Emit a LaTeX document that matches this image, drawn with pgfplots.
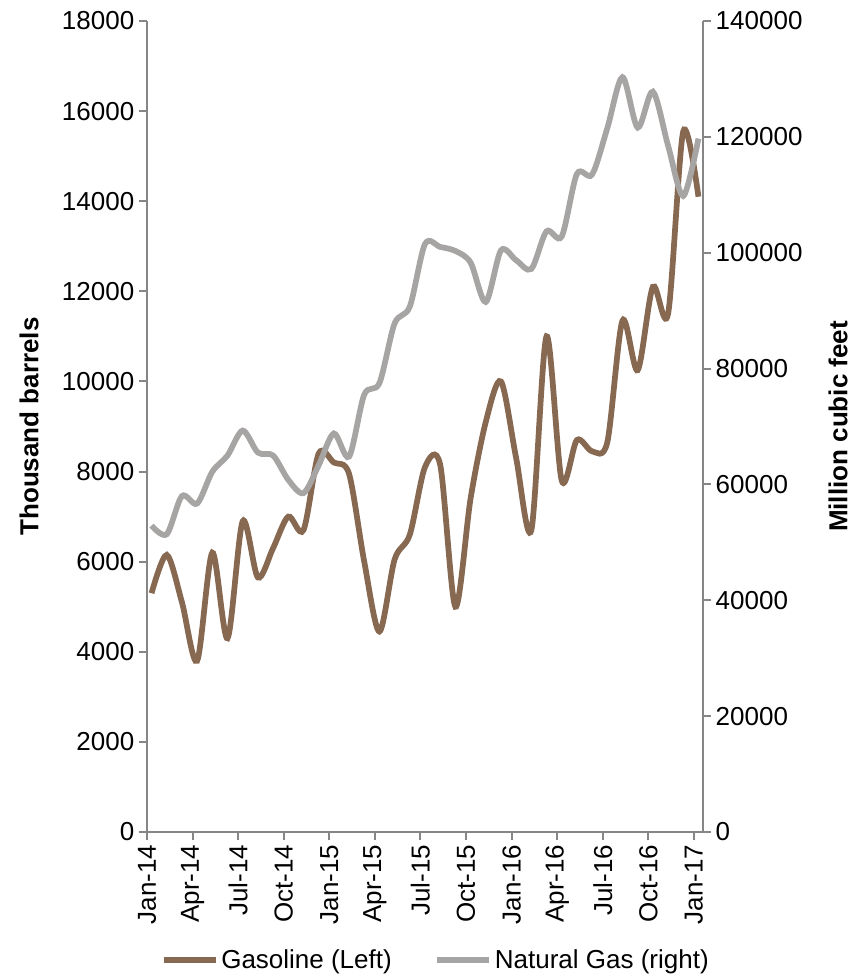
\documentclass[border=0pt]{standalone}
\usepackage{fontspec}
\setmainfont{Liberation Sans}
\usepackage{pgfplots}
\pgfplotsset{compat=1.18}

\definecolor{gasbrown}{RGB}{135,104,80}
\definecolor{gasgray}{RGB}{167,164,164}
\definecolor{axisgray}{RGB}{134,134,134}

\begin{document}
\begin{tikzpicture}
\pgfplotsset{
  common/.style={
    scale only axis,
    width=417pt, height=608.25pt,
    xmin=0, xmax=36.6,
    font=\fontsize{19.5}{23}\selectfont,
    tick label style={font=\fontsize{19.5}{23}\selectfont, black},
    /pgf/number format/assume math mode=true,
    /pgf/number format/fixed,
    /pgf/number format/precision=0,
    /pgf/number format/set thousands separator={},
    scaled y ticks=false,
    axis line style={axisgray, line width=1.5pt},
    tick style={axisgray, line width=1.5pt},
    tick align=outside,
    major tick length=6pt,
    clip=false,
  },
}
% left axis: gasoline
\begin{axis}[common,
  axis y line*=left, axis x line*=bottom,
  ymin=0, ymax=18000, ytick={0,2000,...,18000},
  xtick={0,3,...,36},
  xticklabels={Jan-14,Apr-14,Jul-14,Oct-14,Jan-15,Apr-15,Jul-15,Oct-15,Jan-16,Apr-16,Jul-16,Oct-16,Jan-17},
  xticklabel style={rotate=90, anchor=east},
  ylabel={\bfseries Thousand barrels},
  ylabel style={at={(axis description cs:-0.212,0.5)}, anchor=center},
]
\addplot[gasbrown, line width=4.3pt, smooth] coordinates {
(0.3,5300)(1.3,6150)(2.3,5100)(3.3,3800)(4.3,6200)(5.3,4300)(6.3,6900)(7.3,5650)(8.3,6300)
(9.3,7000)(10.3,6700)(11.3,8400)(12.3,8200)(13.3,7950)(14.3,6000)(15.3,4450)(16.3,6050)
(17.3,6600)(18.3,8100)(19.3,8150)(20.3,5000)(21.3,7400)(22.3,9100)(23.3,10000)(24.3,8300)
(25.3,6700)(26.3,11000)(27.3,7800)(28.3,8700)(29.3,8450)(30.3,8650)(31.3,11350)(32.3,10250)
(33.3,12100)(34.3,11500)(35.3,15550)(36.3,14100)
};
\coordinate (o) at (rel axis cs:0,0);
\end{axis}
% right axis: natural gas
\begin{axis}[common,
  axis y line*=right, axis x line=none,
  ymin=0, ymax=140000, ytick={0,20000,...,140000},
  xtick=\empty,
  ylabel={\bfseries Million cubic feet},
  ylabel style={at={(axis description cs:1.243,0.5)}, anchor=center},
  legend columns=2,
  legend style={at={(axis description cs:0.52,-0.158)}, anchor=center, draw=none,
    font=\fontsize{19.5}{23}\selectfont, nodes={inner xsep=2pt},
    /tikz/every even column/.append style={column sep=30pt}},
  legend image code/.code={\draw[#1] (0pt,0pt) -- (39pt,0pt);},
]
\addlegendimage{gasbrown, line width=4.3pt}
\addlegendentry{Gasoline (Left)}
\addplot[gasgray, line width=4.3pt, smooth] coordinates {
(0.3,52900)(1.3,51400)(2.3,58000)(3.3,56700)(4.3,62200)(5.3,65000)(6.3,69300)(7.3,65500)
(8.3,65000)(9.3,60800)(10.3,58500)(11.3,63300)(12.3,68800)(13.3,64800)(14.3,75500)(15.3,77500)
(16.3,87800)(17.3,90700)(18.3,101500)(19.3,101000)(20.3,100300)(21.3,98300)(22.3,91500)
(23.3,100400)(24.3,98700)(25.3,97200)(26.3,103700)(27.3,102800)(28.3,113600)(29.3,113500)
(30.3,121500)(31.3,130300)(32.3,121600)(33.3,127800)(34.3,118500)(35.3,109800)(36.3,119700)
};
\addlegendentry{Natural Gas (right)}
\end{axis}
\pgfresetboundingbox
\path (o) ++(-110.25pt,-106.5pt) rectangle ++(638.25pt,730.5pt);
\end{tikzpicture}
\end{document}
